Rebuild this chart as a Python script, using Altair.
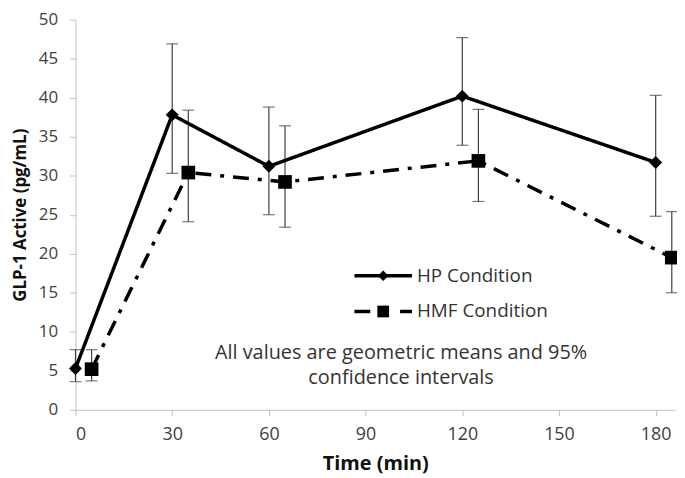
import altair as alt
import pandas as pd

series = ["HP Condition"] * 5 + ["HMF Condition"] * 5
times = [0, 30, 60, 120, 180, 5, 35, 65, 125, 185]
means = [5.3, 37.8, 31.2, 40.2, 31.7, 5.2, 30.4, 29.2, 31.9, 19.5]
lower = [3.6, 30.3, 25.0, 33.9, 24.8, 3.7, 24.1, 23.4, 26.7, 15.0]
upper = [7.7, 46.9, 38.8, 47.7, 40.3, 7.7, 38.4, 36.4, 38.5, 25.4]

x_ticks = [0, 30, 60, 90, 120, 150, 180]
y_ticks = [0, 5, 10, 15, 20, 25, 30, 35, 40, 45, 50]
note_lines = ["All values are geometric means and 95%", "confidence intervals"]

df = pd.DataFrame({"series": series, "time": times, "mean": means,
                   "lower": lower, "upper": upper})

FONT = "Open Sans"
order = ["HP Condition", "HMF Condition"]

x_axis = alt.Axis(values=x_ticks, title="Time (min)", grid=False, labelOverlap=False,
                  domainColor="#bfbfbf", tickColor="#bfbfbf", tickSize=6,
                  labelFontSize=18, labelColor="#404040", labelPadding=10,
                  labelFont=FONT, titleFont=FONT, titleFontSize=20,
                  titleFontWeight="bold", titleColor="#111", titlePadding=10)
y_axis = alt.Axis(values=y_ticks, title="GLP-1 Active (pg/mL)", grid=False, labelOverlap=False,
                  domainColor="#bfbfbf", tickColor="#bfbfbf", tickSize=6,
                  labelFontSize=17, labelColor="#404040", labelPadding=12,
                  labelFont=FONT, titleFont=FONT, titleFontSize=17,
                  titleFontWeight="bold", titleColor="#111", titlePadding=9)
x_scale = alt.Scale(domain=[0, 186], nice=False)
y_scale = alt.Scale(domain=[0, 50], nice=False)


def X(field):
    return alt.X(field, scale=x_scale, axis=x_axis)


def Y(field):
    return alt.Y(field, scale=y_scale, axis=y_axis)


base = alt.Chart(df)

rules = base.mark_rule(color="#404040", strokeWidth=1.2).encode(
    x=X("time:Q"), y=Y("lower:Q"), y2="upper:Q")
caps_hi = base.mark_tick(color="#404040", orient="horizontal", size=12, thickness=1.2).encode(
    x=X("time:Q"), y=Y("upper:Q"))
caps_lo = base.mark_tick(color="#404040", orient="horizontal", size=12, thickness=1.2).encode(
    x=X("time:Q"), y=Y("lower:Q"))

lines = base.mark_line(color="black", strokeWidth=3.5).encode(
    x=X("time:Q"), y=Y("mean:Q"), detail="series:N",
    strokeDash=alt.StrokeDash("series:N", scale=alt.Scale(domain=order, range=[[1, 0], [16, 9, 4, 9]]),
                              legend=None))
points = base.mark_point(filled=True, color="black", opacity=1).encode(
    x=X("time:Q"), y=Y("mean:Q"),
    shape=alt.Shape("series:N", scale=alt.Scale(domain=order, range=["diamond", "square"]), legend=None),
    size=alt.Size("series:N", scale=alt.Scale(domain=order, range=[170, 190]), legend=None))

# legend (drawn inside the plot)
leg = pd.DataFrame({"label": order})
LY1, LY2 = 258, 294
leg_hp_line = alt.Chart(leg).transform_filter(alt.datum.label == order[0]).mark_rule(
    color="black", strokeWidth=3.5).encode(x=alt.value(281), x2=alt.value(339), y=alt.value(LY1))
leg_hp_pt = alt.Chart(leg).transform_filter(alt.datum.label == order[0]).mark_point(
    shape="diamond", filled=True, color="black", size=110, opacity=1).encode(
    x=alt.value(310), y=alt.value(LY1))
leg_hmf_d1 = alt.Chart(leg).transform_filter(alt.datum.label == order[1]).mark_rule(
    color="black", strokeWidth=3.5).encode(x=alt.value(281), x2=alt.value(297), y=alt.value(LY2))
leg_hmf_d2 = alt.Chart(leg).transform_filter(alt.datum.label == order[1]).mark_rule(
    color="black", strokeWidth=3.5).encode(x=alt.value(327), x2=alt.value(339), y=alt.value(LY2))
leg_hmf_pt = alt.Chart(leg).transform_filter(alt.datum.label == order[1]).mark_point(
    shape="square", filled=True, color="black", size=140, opacity=1).encode(
    x=alt.value(310), y=alt.value(LY2))
leg_t1 = alt.Chart(leg).transform_filter(alt.datum.label == order[0]).mark_text(
    align="left", baseline="middle", font=FONT, fontSize=19, color="#333").encode(
    x=alt.value(344), y=alt.value(LY1), text="label:N")
leg_t2 = alt.Chart(leg).transform_filter(alt.datum.label == order[1]).mark_text(
    align="left", baseline="middle", font=FONT, fontSize=19, color="#333").encode(
    x=alt.value(344), y=alt.value(LY2), text="label:N")

notes = pd.DataFrame({"line": note_lines, "i": [0, 1]})
note1 = alt.Chart(notes).transform_filter(alt.datum.i == 0).mark_text(
    align="center", baseline="middle", font=FONT, fontSize=20, color="#333").encode(
    x=alt.value(328), y=alt.value(336), text="line:N")
note2 = alt.Chart(notes).transform_filter(alt.datum.i == 1).mark_text(
    align="center", baseline="middle", font=FONT, fontSize=20, color="#333").encode(
    x=alt.value(328), y=alt.value(361), text="line:N")

chart = alt.layer(
    rules, caps_hi, caps_lo, lines, points,
    leg_hp_line, leg_hp_pt, leg_hmf_d1, leg_hmf_d2, leg_hmf_pt, leg_t1, leg_t2, note1, note2
).properties(
    width=604, height=393,
    autosize=alt.AutoSizeParams(type="none"),
    padding={"left": 68, "top": 10, "right": 2, "bottom": 67},
    background="white",
).configure_view(stroke=None)

chart.save("out.html", embed_options={"renderer": "svg", "actions": False})
